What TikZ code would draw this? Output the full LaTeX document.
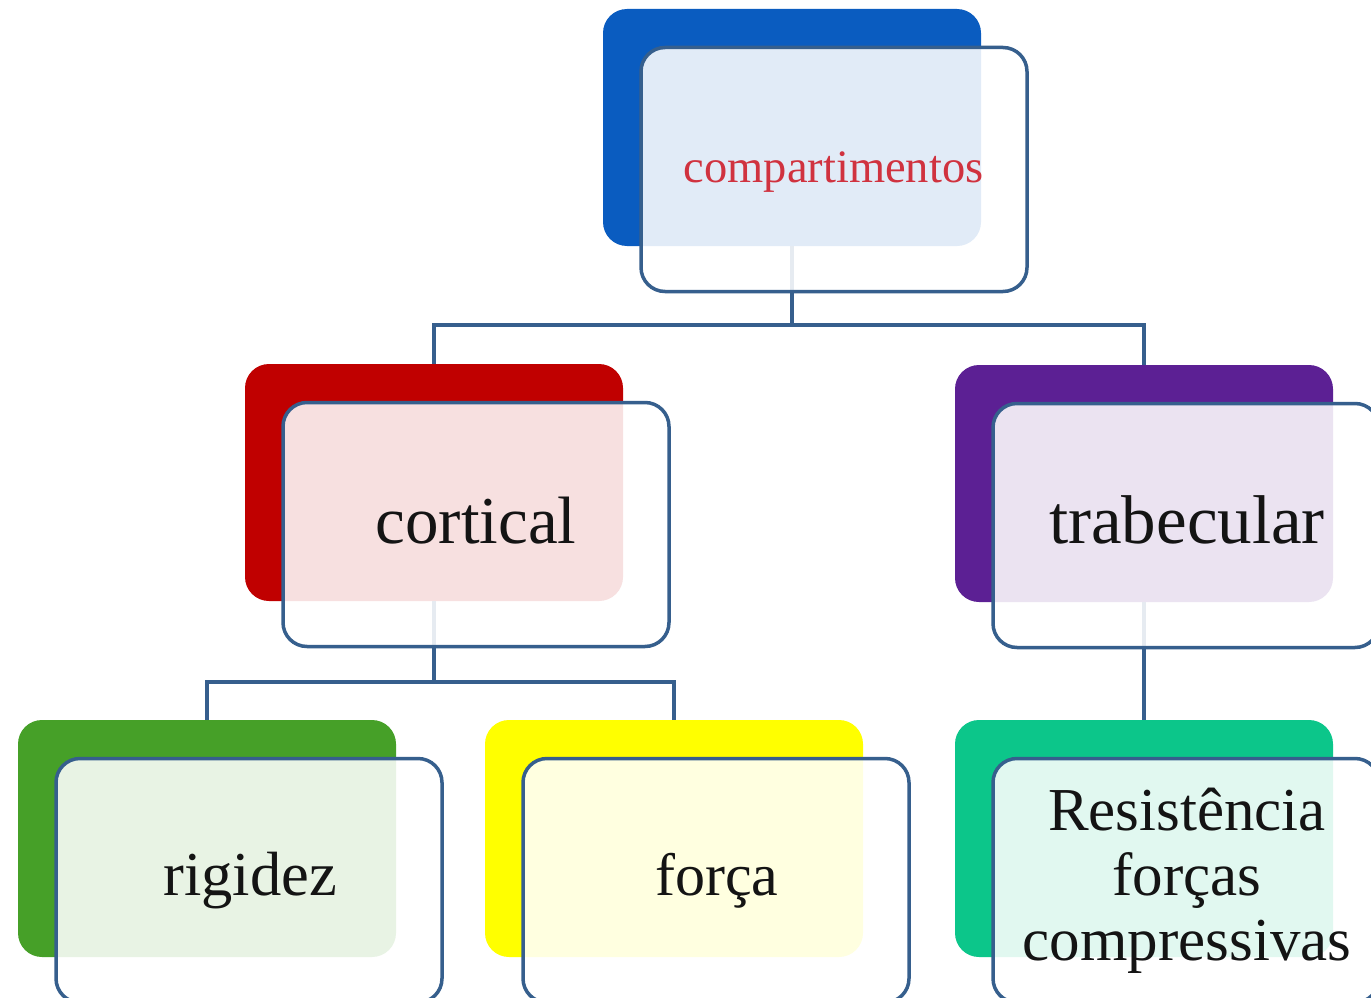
\documentclass[tikz,border=0pt]{standalone}
\usepackage{fontspec}
\setmainfont{Liberation Serif}
\definecolor{cblue}{HTML}{0A5CC0}
\definecolor{cred}{HTML}{C00000}
\definecolor{cpurple}{HTML}{5C2094}
\definecolor{cgreen}{HTML}{46A028}
\definecolor{cyellow}{HTML}{FFFF00}
\definecolor{cteal}{HTML}{0CC68A}
\definecolor{edge}{HTML}{365F8D}
\definecolor{txtred}{HTML}{D0323F}
\definecolor{txt}{HTML}{141414}
\newcommand{\fs}[1]{\fontsize{#1}{#1}\selectfont}
\begin{document}
\begin{tikzpicture}[x=1pt,y=-1pt,
  backbox/.style={draw=none,rectangle,rounded corners=24pt,minimum width=378pt,minimum height=237pt,inner sep=0pt},
  frontbox/.style={draw=edge,line width=3.5pt,rectangle,rounded corners=24pt,fill=white,fill opacity=0.88,minimum width=386pt,minimum height=244pt,inner sep=0pt},
  conn/.style={draw=edge,line width=4pt},
  lbl/.style={text=txt,anchor=base,inner sep=0pt,align=center}]
\useasboundingbox (0,0) rectangle (1371,998);
\clip (0,0) rectangle (1371,998);
\fill[white] (0,0) rectangle (1371,998);
% back boxes (top-left + half size)
\node[backbox,fill=cblue]   (topB) at (792,127.5) {};
\node[backbox,fill=cred]    (corB) at (434,482.5) {};
\node[backbox,fill=cpurple] (trbB) at (1144,483.5) {};
\node[backbox,fill=cgreen]  (rigB) at (207,838.5) {};
\node[backbox,fill=cyellow] (forB) at (674,838.5) {};
\node[backbox,fill=cteal]   (resB) at (1144,838.5) {};
% connectors
\coordinate (j1) at (792,325);
\coordinate (j2) at (434,682);
\draw[conn] (topB.south) -- (j1) -| (corB.north);
\draw[conn] (j1) -| (trbB.north);
\draw[conn] (corB.south) -- (j2) -| (rigB.north);
\draw[conn] (j2) -| (forB.north);
\draw[conn] (trbB.south) -- (resB.north);
% front boxes
\node[frontbox] (topF) at (834,169.5) {};
\node[frontbox] (corF) at (476,524.5) {};
\node[frontbox] (trbF) at (1186,525.5) {};
\node[frontbox] (rigF) at (249,880.5) {};
\node[frontbox] (forF) at (716,880.5) {};
\node[frontbox] (resF) at (1186,880.5) {};
% labels
\node[lbl,text=txtred,font=\fs{46.5}] (topT) at (833.5,182) {compartimentos};
\node[lbl,font=\fs{67}] (corT) at (476,543) {cortical};
\node[lbl,font=\fs{69}] (trbT) at (1187,543) {trabecular};
\node[lbl,font=\fs{62.5}] (rigT) at (250,895) {rigidez};
\node[lbl,font=\fs{60}] (forT) at (717,895) {força};
\node[lbl,font={\fontsize{61}{65}\selectfont}] (resT) at (1187,960) {Resistência\\forças\\compressivas};
\end{tikzpicture}
\end{document}
